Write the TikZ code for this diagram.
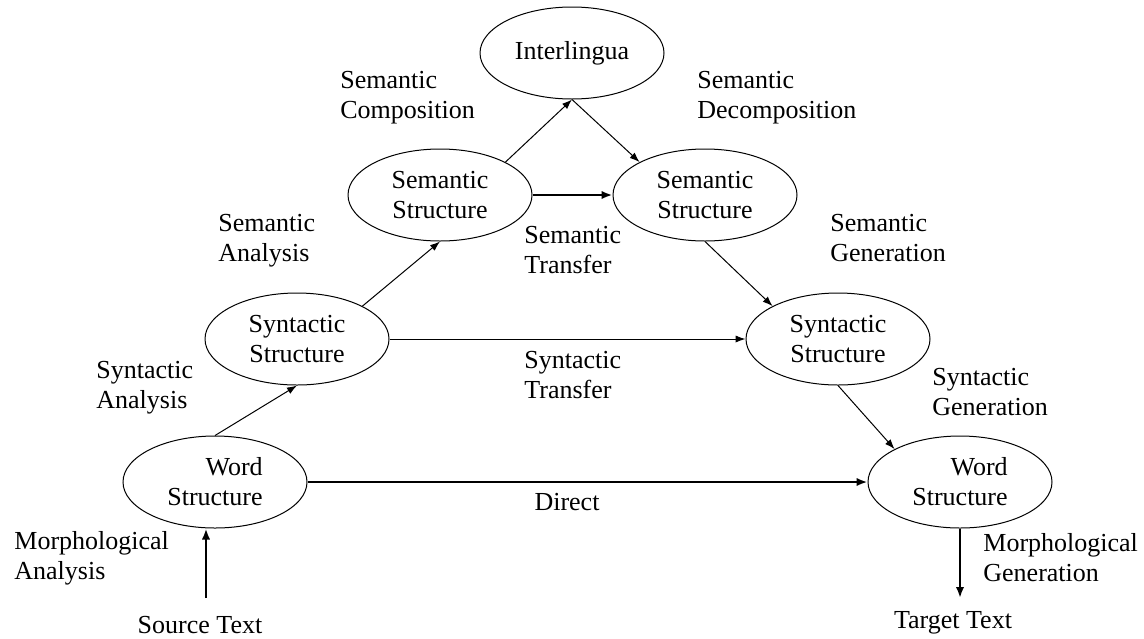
\documentclass[tikz,border=0pt]{standalone}
\usepackage{fontspec}
\setmainfont{Liberation Serif}
\usetikzlibrary{arrows,arrows.meta,calc,shapes.geometric,positioning}
\tikzset{%
	stage/.style      = {draw, ellipse, line width=0.5pt, minimum width=92pt, minimum height=46pt, inner sep=0pt, align=center},
	note/.style       = {inner sep=0pt, align=left, anchor=west},
	arrow/.style      = {line width=0.5pt,-{Latex[length=5pt,width=3.6pt]}},
	thickarrow/.style = {line width=1.1pt,-{Latex[length=5.5pt,width=4.2pt]}},
}

\begin{document}
\begin{tikzpicture}[x=0.5pt,y=-0.5pt,font=\fontsize{13}{15}\selectfont]
	\useasboundingbox (0,0) rectangle (1144,638);
	% structures
	\node[stage] (inter) at (572,53)  {Interlingua};
	\node[stage] (semL)  at (440,195) {Semantic\\Structure};
	\node[stage] (semR)  at (705,195) {Semantic\\Structure};
	\node[stage] (synL)  at (297,339) {Syntactic\\Structure};
	\node[stage] (synR)  at (838,339) {Syntactic\\Structure};
	\node[stage,align=right] (wordL) at (215,482) {Word\\Structure};
	\node[stage,align=right] (wordR) at (960,482) {Word\\Structure};
	% texts
	\node[inner sep=0pt] (src) at (200,625) {Source Text};
	\node[inner sep=0pt] (tgt) at (953,623) {Target Text};
	\coordinate (srcend) at (206,598);
	\coordinate (tgtend) at (960,598);
	% labels
	\node[note] (semcomp)   at (340,98)  {Semantic\\Composition};
	\node[note] (semdecomp) at (697,98)  {Semantic\\Decomposition};
	\node[note] (semana)    at (218,241) {Semantic\\Analysis};
	\node[note] (semtrans)  at (524,250) {Semantic\\Transfer};
	\node[note] (semgen)    at (830,238) {Semantic\\Generation};
	\node[note] (synana)    at (96,388)  {Syntactic\\Analysis};
	\node[note] (syntrans)  at (524,375) {Syntactic\\Transfer};
	\node[note] (syngen)    at (932,392) {Syntactic\\Generation};
	\node[note] (morphana)  at (14,558)  {Morphological\\Analysis};
	\node[note] (morphgen)  at (983,558) {Morphological\\Generation};
	\node[inner sep=0pt] (direct) at (567,502) {Direct};
	% arrows
	\draw[arrow] (semL.north east) -- (inter.south);
	\draw[arrow] (inter.south) -- (semR.north west);
	\draw[thickarrow] (semL.east) -- (semR.west);
	\draw[arrow] (synL.north east) -- (semL.south);
	\draw[arrow] (semR.south) -- (synR.north west);
	\draw[arrow] (synL.east) -- (synR.west);
	\draw[arrow] (wordL.north) -- (synL.south);
	\draw[arrow] (synR.south) -- (wordR.north west);
	\draw[thickarrow] (wordL.east) -- (wordR.west);
	\draw[thickarrow] (srcend) -- (srcend |- wordL.south);
	\draw[thickarrow] (wordR.south) -- (tgtend);
\end{tikzpicture}
\end{document}
